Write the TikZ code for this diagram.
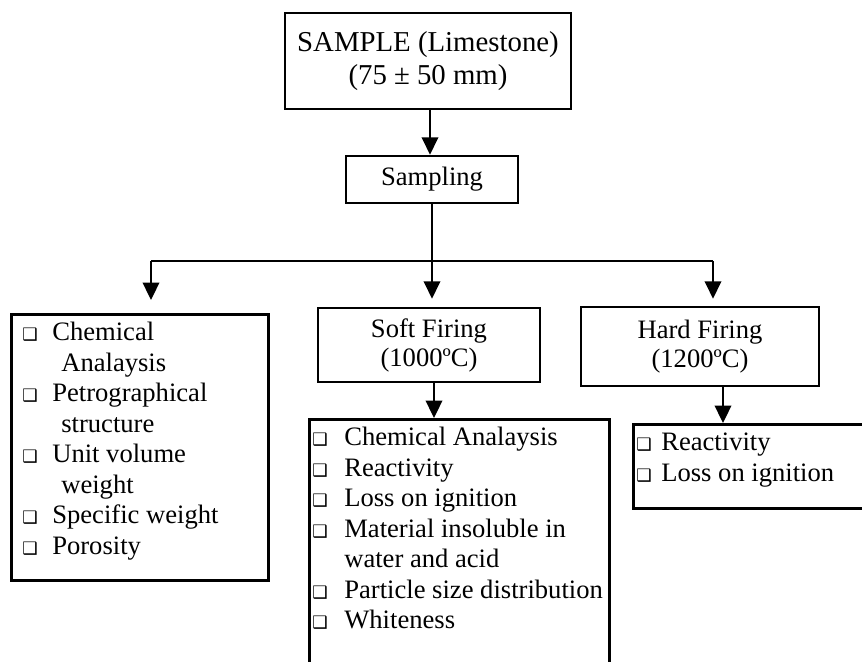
\documentclass[tikz,border=0pt]{standalone}
\usepackage{fontspec}
\setmainfont{Liberation Serif}
\newfontfamily\dingfont{DejaVu Sans}
\usetikzlibrary{arrows.meta}
\newcommand{\bul}{\makebox[6pt][l]{\dingfont\fontsize{8.6}{8.6}\selectfont ❑}}
\newcommand{\listin}[3]{\parbox[c][#2][t]{#1}{#3}}

\begin{document}
\begin{tikzpicture}[x=0.5pt,y=-0.5pt,
  stage/.style={draw,line width=1.3pt,align=center,inner sep=1pt,
    font=\fontsize{13.3}{14.5}\selectfont},
  listbox/.style={draw,line width=1.3pt,anchor=north west,inner xsep=1.5pt,
    inner ysep=2.6pt,font=\fontsize{13.3}{15.25}\selectfont},
  link/.style={line width=0.8pt},
  arr/.style={link,-{Triangle[width=8.3pt,length=8.7pt]}}]
  \useasboundingbox (0,0) rectangle (862,662);
  \clip (0,0) rectangle (862,662);
  % top of the chart
  \node[stage,minimum width=143pt,minimum height=48pt,
    font=\fontsize{14.4}{16.5}\selectfont] (sample) at (428,61)
    {SAMPLE (Limestone)\\(75 ± 50 mm)};
  \node[stage,minimum width=86pt,minimum height=23.5pt] (sampling) at (432,179.5) {Sampling};
  % second row
  \node[stage,minimum width=111pt,minimum height=37pt] (soft) at (429,345)
    {Soft Firing\\(1000ºC)};
  \node[stage,minimum width=119pt,minimum height=39.5pt] (hard) at (700,346.5)
    {Hard Firing\\(1200ºC)};
  % test lists
  \node[listbox] (geol) at (10,313) {\listin{125.5pt}{127.8pt}{%
    \begin{tabular}{@{\hspace{4pt}}l@{\hspace{9pt}}l@{}}
      \bul & Chemical\\ & \hspace{4.5pt}Analaysis\\
      \bul & Petrographical\\ & \hspace{4.5pt}structure\\
      \bul & Unit volume\\ & \hspace{4.5pt}weight\\
      \bul & Specific weight\\
      \bul & Porosity
    \end{tabular}}};
  \node[listbox] (softlist) at (308,418) {\listin{147pt}{125.8pt}{%
    \begin{tabular}{@{}l@{\hspace{10pt}}l@{}}
      \bul & Chemical Analaysis\\
      \bul & Reactivity\\
      \bul & Loss on ignition\\
      \bul & Material insoluble in\\ & water and acid\\
      \bul & Particle size distribution\\
      \bul & Whiteness
    \end{tabular}}};
  \node[listbox] (hardlist) at (632,423) {\listin{121pt}{36.8pt}{%
    \begin{tabular}{@{}l@{\hspace{6.5pt}}l@{}}
      \bul & Reactivity\\
      \bul & Loss on ignition
    \end{tabular}}};
  % connectors
  \coordinate (busL) at (151,261);
  \coordinate (busR) at (713,261);
  \coordinate (hardout) at ([xshift=11.5pt]hard.south);
  \coordinate (softout) at ([xshift=2.5pt]soft.south);
  \draw[arr] ([xshift=1pt]sample.south) -- ([xshift=1pt]sample.south |- sampling.north);
  \draw[link] (busL) -- (busR);
  \draw[arr,shorten >=4pt] (sampling.south) -- (sampling.south |- soft.north);
  \draw[arr,shorten >=6.5pt] (busL) -- (busL |- geol.north);
  \draw[arr,shorten >=3.5pt] (busR) -- (busR |- hard.north);
  \draw[arr] (softout) -- (softout |- softlist.north);
  \draw[arr] (hardout) -- (hardout |- hardlist.north);
\end{tikzpicture}
\end{document}
